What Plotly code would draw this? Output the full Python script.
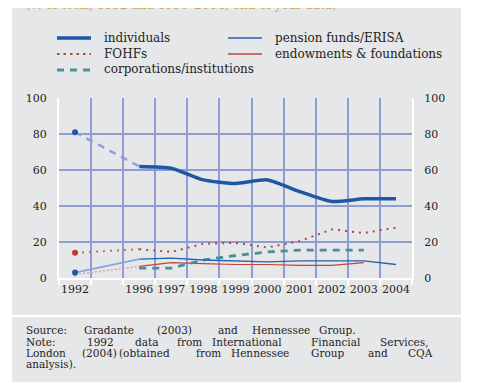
import plotly.graph_objects as go

# category slots on the x axis (blank slot stands for 1993-95)
axis_slots = ["1992", " ", "1996", "1997", "1998", "1999", "2000", "2001", "2002", "2003", "2004"]
years = ["1992", "1996", "1997", "1998", "1999", "2000", "2001", "2002", "2003", "2004"]

individuals = [81, 62, 61, 54.5, 52.5, 54.5, 48, 42.5, 44, 44]
pension = [3, 10.5, 11, 10, 9.5, 9, 9.5, 9.5, 9.5, 7.5]
fohfs = [14, 16, 14.5, 19, 19.5, 17, 20.5, 27, 25, 28]
endowments = [2, 6.5, 8.5, 8, 7.5, 7.5, 7, 7, 8.5, None]
corporations = [None, 5.5, 5.5, 10, 12.5, 14.5, 15.5, 15.5, 15.5, None]

y_ticks = [0, 20, 40, 60, 80, 100]

FONT = "DejaVu Serif"
GRID = "#8e9dd5"
PANEL = "#e6e7e9"
BLUE = "#1d57a5"
RED = "#b8483f"
TEAL = "#4a8e9c"


def fx(px):
    return (px - 51) / 353


def fy(py):
    return (270 - py) / 180


fig = go.Figure()

# hidden trace so every slot exists on the category axis
fig.add_trace(go.Scatter(x=axis_slots, y=[None] * len(axis_slots),
                         mode="lines", showlegend=False, hoverinfo="skip"))

# 1992 -> 1996 connectors
fig.add_trace(go.Scatter(x=years[:2], y=endowments[:2], mode="lines",
                         line=dict(color="#dba3a3", width=1.5, dash="2px,2px"), showlegend=False))
fig.add_trace(go.Scatter(x=years[:2], y=pension[:2], mode="lines",
                         line=dict(color="#8ea2dc", width=1.6), showlegend=False))
fig.add_trace(go.Scatter(x=years[:2], y=fohfs[:2], mode="lines",
                         line=dict(color="#c86a60", width=2, dash="2px,5px"), showlegend=False))
fig.add_trace(go.Scatter(x=years[:2], y=individuals[:2], mode="lines",
                         line=dict(color="#8ea0d8", width=2.5, dash="7px,6px"), showlegend=False))

# 1996-2004 series
fig.add_trace(go.Scatter(x=years[1:], y=endowments[1:], mode="lines", name="endowments & foundations",
                         line=dict(color="#c0463c", width=1.2), showlegend=False))
fig.add_trace(go.Scatter(x=years[1:], y=corporations[1:], mode="lines", name="corporations/institutions",
                         line=dict(color=TEAL, width=2.8, dash="7px,6px"), showlegend=False))
fig.add_trace(go.Scatter(x=years[1:], y=fohfs[1:], mode="lines", name="FOHFs",
                         line=dict(color=RED, width=2, dash="2px,5px"), showlegend=False))
fig.add_trace(go.Scatter(x=years[1:], y=pension[1:], mode="lines", name="pension funds/ERISA",
                         line=dict(color="#2461b0", width=1.3), showlegend=False))
fig.add_trace(go.Scatter(x=years[1:], y=individuals[1:], mode="lines", name="individuals",
                         line=dict(color=BLUE, width=3.5, shape="spline", smoothing=0.6), showlegend=False))

# 1992 markers
fig.add_trace(go.Scatter(x=years[:1], y=endowments[:1], mode="markers",
                         marker=dict(color="#d58a8a", size=4), showlegend=False))
fig.add_trace(go.Scatter(x=years[:1] * 3, y=[individuals[0], pension[0], fohfs[0]], mode="markers",
                         marker=dict(color=[BLUE, BLUE, "#c0392b"], size=6), showlegend=False))

# empty trace on the right-hand axis so it gets drawn
fig.add_trace(go.Scatter(x=years[:1], y=[None], yaxis="y2", mode="lines",
                         showlegend=False, hoverinfo="skip"))

# white gaps around the grey panels (paper itself is grey)
shapes = [
    dict(type="rect", xref="paper", yref="paper", x0=fx(453), x1=fx(500), y0=fy(400), y1=fy(-10),
         fillcolor="white", line_width=0),
    dict(type="rect", xref="paper", yref="paper", x0=fx(-10), x1=fx(4), y0=fy(400), y1=fy(-10),
         fillcolor="white", line_width=0),
    dict(type="rect", xref="paper", yref="paper", x0=fx(-10), x1=fx(500), y0=fy(309), y1=fy(307),
         fillcolor="white", line_width=0),
    dict(type="rect", xref="paper", yref="paper", x0=fx(-10), x1=fx(500), y0=fy(400), y1=fy(379),
         fillcolor="white", line_width=0),
]

legend_items = [
    ("individuals", 49, 30, dict(color=BLUE, width=3.5)),
    ("pension funds/ERISA", 220, 30, dict(color="#2461b0", width=1.3)),
    ("FOHFs", 49, 46, dict(color=RED, width=2.2, dash="2.5px,4px")),
    ("endowments & foundations", 220, 46, dict(color="#c0463c", width=1.3)),
    ("corporations/institutions", 49, 62, dict(color=TEAL, width=2.8, dash="7px,6px")),
]

annotations = [
    dict(text="(% of total; 1992 and 1996–2004; end-of-year data)", x=fx(17), y=fy(5),
         xref="paper", yref="paper", xanchor="left", yanchor="bottom", showarrow=False,
         borderpad=0, font=dict(family=FONT, size=12, color="#c9a94d")),
]
for label, x0, y0, ln in legend_items:
    shapes.append(dict(type="line", xref="paper", yref="paper", x0=fx(x0), x1=fx(x0 + 34),
                       y0=fy(y0), y1=fy(y0), line=ln))
    annotations.append(dict(text=label, x=fx(x0 + 46), y=fy(y0 - 0.5), xref="paper", yref="paper",
                            xanchor="left", yanchor="middle", showarrow=False, borderpad=0,
                            font=dict(family=FONT, size=12, color="#222")))

source_lines = [
    (322, [("Source:", 17), ("Gradante", 75), ("(2003)", 148), ("and", 209), ("Hennessee", 243), ("Group.", 310)]),
    (333.5, [("Note:", 17), ("1992", 78), ("data", 126), ("from", 168), ("International", 203),
             ("Financial", 302), ("Services,", 371)]),
    (345, [("London", 17), ("(2004)", 73), ("(obtained", 110), ("from", 187), ("Hennessee", 222),
           ("Group", 302), ("and", 359), ("CQA", 399)]),
    (356, [("analysis).", 17)]),
]
for ypx, words in source_lines:
    for word, xpx in words:
        annotations.append(dict(text=word, x=fx(xpx), y=fy(ypx), xref="paper", yref="paper",
                                xanchor="left", yanchor="middle", showarrow=False, borderpad=0,
                                font=dict(family=FONT, size=10.5, color="#222")))

axis_font = dict(family=FONT, size=11, color="#222")
fig.update_layout(
    width=491, height=382,
    margin=dict(l=51, r=87, t=90, b=112),
    paper_bgcolor=PANEL, plot_bgcolor=PANEL,
    showlegend=False,
    shapes=shapes, annotations=annotations,
    xaxis=dict(type="category", categoryorder="array", categoryarray=axis_slots,
               range=[-0.5, 10.5], tickson="boundaries", ticks="outside", ticklen=5,
               tickwidth=2, tickcolor="white", tickangle=0, showgrid=True, gridcolor=GRID,
               gridwidth=1.5, showline=True, linecolor="white", linewidth=2, tickfont=axis_font),
    yaxis=dict(range=[0, 100], tickvals=y_ticks, showgrid=True, gridcolor=GRID, gridwidth=1.5,
               zeroline=False, showline=True, linecolor="white", linewidth=2, ticks="",
               tickfont=axis_font, ticklabelstandoff=8),
    yaxis2=dict(range=[0, 100], tickvals=y_ticks, overlaying="y", side="right", showgrid=False,
                zeroline=False, showline=True, linecolor="white", linewidth=2, ticks="",
                tickfont=axis_font, ticklabelstandoff=8),
)

fig.write_html("out.html")
